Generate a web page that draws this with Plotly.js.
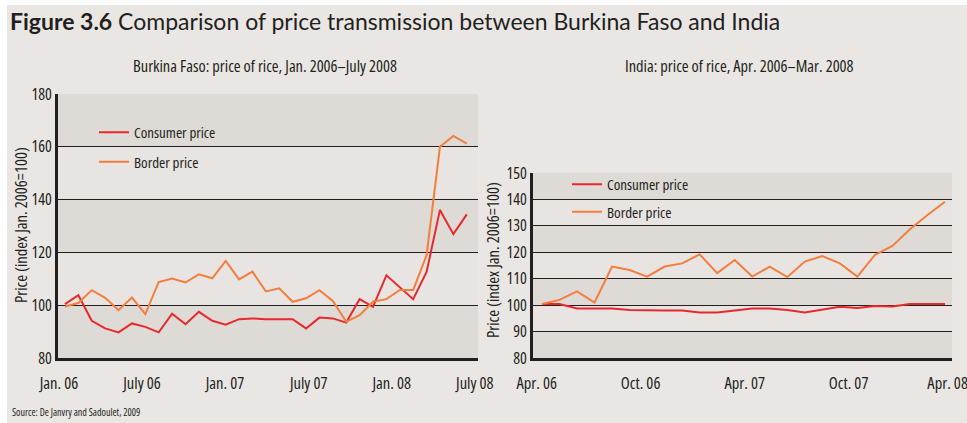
<!DOCTYPE html>
<html>
<head>
<meta charset="utf-8">
<script src="https://cdn.plot.ly/plotly-3.0.1.min.js"></script>
<style>
html,body{margin:0;padding:0;background:#fff;}
#chart{width:967px;height:423px;}
text:not(.gtitle){font-stretch:condensed;}
</style>
</head>
<body>
<div id="chart"></div>
<script>
// Burkina Faso, monthly Jan 2006 - Jul 2008 (index Jan 2006 = 100)
const bfMonths = ['2006-01','2006-02','2006-03','2006-04','2006-05','2006-06','2006-07','2006-08','2006-09','2006-10','2006-11','2006-12',
  '2007-01','2007-02','2007-03','2007-04','2007-05','2007-06','2007-07','2007-08','2007-09','2007-10','2007-11','2007-12',
  '2008-01','2008-02','2008-03','2008-04','2008-05','2008-06','2008-07'];
const bfConsumer = [100.4,103.8,94.1,91.2,89.7,93.1,91.8,89.7,96.8,92.8,97.5,94.1,92.6,94.7,95.0,94.7,94.7,94.7,91.2,95.3,95.0,93.4,102.3,99.4,111.3,106.7,102.3,112.6,136.1,126.9,134.4];
const bfBorder = [99.5,100.8,105.7,102.8,98.1,102.9,96.6,108.8,110.1,108.6,111.7,110.2,116.8,109.8,112.7,105.2,106.4,101.3,102.6,105.7,101.6,93.7,96.2,101.3,102.3,105.8,105.8,118.9,160.0,164.1,161.2];
const bfTickText = ['Jan. 06','July 06','Jan. 07','July 07','Jan. 08','July 08'];

// India, monthly Apr 2006 - Mar 2008
const inMonths = ['2006-04','2006-05','2006-06','2006-07','2006-08','2006-09','2006-10','2006-11','2006-12','2007-01','2007-02','2007-03',
  '2007-04','2007-05','2007-06','2007-07','2007-08','2007-09','2007-10','2007-11','2007-12','2008-01','2008-02','2008-03'];
const inConsumer = [100.4,100.4,98.7,98.7,98.7,98.2,98.0,98.0,98.0,97.2,97.2,98.0,98.7,98.7,98.2,97.2,98.2,99.4,98.9,99.7,99.5,100.4,100.4,100.4];
const inBorder = [100.4,102.0,105.2,101.0,114.6,113.3,110.8,114.6,115.8,119.2,112.1,117.1,110.8,114.6,110.6,116.5,118.6,115.8,110.8,119.0,122.4,128.7,134.1,139.1];
const inTickText = ['Apr. 06','Oct. 06','Apr. 07','Oct. 07','Apr. 08'];

const seriesNames = ['Consumer price','Border price'];
const yTitleText = 'Price (index Jan. 2006=100)';

const RED = '#e8282a', ORANGE = '#f47d3c';
const COND = '"Open Sans", "Roboto Condensed", sans-serif';
const INK = '#231f20';
const BG = '#e9e6e3', LIGHT = '#e8e4e1', DARK = '#dedad6';

const idx = a => a.map((_, i) => i);

const traces = [
  {x: idx(bfMonths), y: bfConsumer, customdata: bfMonths, name: seriesNames[0], type: 'scatter', mode: 'lines',
   line: {color: RED, width: 2}, xaxis: 'x', yaxis: 'y', legend: 'legend', legendgroup: 'a'},
  {x: idx(bfMonths), y: bfBorder, customdata: bfMonths, name: seriesNames[1], type: 'scatter', mode: 'lines',
   line: {color: ORANGE, width: 2}, xaxis: 'x', yaxis: 'y', legend: 'legend', legendgroup: 'b'},
  {x: idx(inMonths), y: inConsumer, customdata: inMonths, name: seriesNames[0], type: 'scatter', mode: 'lines',
   line: {color: RED, width: 2}, xaxis: 'x2', yaxis: 'y2', legend: 'legend2', legendgroup: 'c'},
  {x: idx(inMonths), y: inBorder, customdata: inMonths, name: seriesNames[1], type: 'scatter', mode: 'lines',
   line: {color: ORANGE, width: 2}, xaxis: 'x2', yaxis: 'y2', legend: 'legend2', legendgroup: 'd'}
];

function bands(xref, yref, lo, hi, step, firstDark) {
  const s = [];
  let dark = firstDark;
  for (let v = lo; v < hi; v += step) {
    s.push({type: 'rect', xref: xref + ' domain', yref: yref, x0: 0, x1: 1, y0: v, y1: v + step,
      fillcolor: dark ? DARK : LIGHT, line: {width: 0}, layer: 'below'});
    dark = !dark;
  }
  return s;
}

const W = 967, H = 423;
const px = v => v / W, py = v => 1 - v / H;

const shapes = [
  {type: 'rect', xref: 'paper', yref: 'paper', x0: px(7), x1: 1, y0: 0, y1: py(5), fillcolor: BG, line: {width: 0}, layer: 'below'}
].concat(bands('x', 'y', 80, 180, 20, true)).concat(bands('x2', 'y2', 80, 150, 10, true));

const axisCommon = {
  showline: true, linecolor: INK, linewidth: 3, mirror: false, ticks: '', zeroline: false, automargin: false,
  tickfont: {family: COND, size: 16.5, color: INK}
};

const layout = {
  width: W, height: H,
  paper_bgcolor: '#ffffff', plot_bgcolor: LIGHT,
  margin: {l: 0, r: 0, t: 0, b: 0},
  showlegend: true,
  title: {text: '<b>Figure 3.6</b> Comparison of price transmission between Burkina Faso and India',
    x: px(10), xanchor: 'left', xref: 'paper', y: py(22), yanchor: 'middle', yref: 'paper',
    font: {family: 'Lato, "Open Sans", sans-serif', size: 23, color: INK}},
  xaxis: Object.assign({}, axisCommon, {domain: [px(58), px(478)], range: [-0.52, 30.84],
    tickmode: 'array', tickvals: [-0.45, 5.75, 11.95, 18.2, 24.4, 30.6], ticktext: bfTickText, showgrid: false,
    ticklabelstandoff: 8, ticklabeloverflow: 'allow'}),
  yaxis: Object.assign({}, axisCommon, {domain: [1 - 358 / H, 1 - 94 / H], range: [80, 180], dtick: 20, tick0: 80,
    showgrid: true, gridcolor: INK, gridwidth: 1.2, tickfont: {family: COND, size: 16, color: INK}}),
  xaxis2: Object.assign({}, axisCommon, {anchor: 'y2', domain: [px(533), px(952)], range: [-0.51, 23.4],
    tickmode: 'array', tickvals: [-0.3, 5.63, 11.57, 17.5, 23.15], ticktext: inTickText, showgrid: false,
    ticklabelstandoff: 8, ticklabeloverflow: 'allow'}),
  yaxis2: Object.assign({}, axisCommon, {anchor: 'x2', domain: [1 - 358 / H, 1 - 173 / H], range: [80, 150], dtick: 10, tick0: 80,
    showgrid: true, gridcolor: INK, gridwidth: 1.2, tickfont: {family: COND, size: 16, color: INK}}),
  legend: {x: px(94), xanchor: 'left', y: py(116), yanchor: 'top', bgcolor: 'rgba(0,0,0,0)',
    font: {family: COND, size: 15, color: INK}, tracegroupgap: 7, traceorder: 'grouped'},
  legend2: {x: px(567), xanchor: 'left', y: py(168), yanchor: 'top', bgcolor: 'rgba(0,0,0,0)',
    font: {family: COND, size: 15, color: INK}, tracegroupgap: 5, traceorder: 'grouped'},
  shapes: shapes,
  annotations: [
    {text: 'Burkina Faso: price of rice, Jan. 2006–July 2008', xref: 'paper', yref: 'paper', x: px(265), y: py(65),
      xanchor: 'center', yanchor: 'middle', showarrow: false, font: {family: COND, size: 16.4, color: INK}},
    {text: 'India: price of rice, Apr. 2006–Mar. 2008', xref: 'paper', yref: 'paper', x: px(739), y: py(65),
      xanchor: 'center', yanchor: 'middle', showarrow: false, font: {family: COND, size: 16.4, color: INK}},
    {text: yTitleText, xref: 'paper', yref: 'paper', x: px(20), y: py(225), textangle: -90,
      xanchor: 'center', yanchor: 'middle', showarrow: false, font: {family: COND, size: 16.5, color: INK}},
    {text: yTitleText, xref: 'paper', yref: 'paper', x: px(492), y: py(260), textangle: -90,
      xanchor: 'center', yanchor: 'middle', showarrow: false, font: {family: COND, size: 16.5, color: INK}},
    {text: 'Source: De Janvry and Sadoulet, 2009', xref: 'paper', yref: 'paper', x: px(10), y: py(412),
      xanchor: 'left', yanchor: 'middle', showarrow: false, font: {family: COND, size: 10, color: INK}}
  ]
};

Plotly.newPlot('chart', traces, layout, {displayModeBar: false, staticPlot: true});
</script>
</body>
</html>
